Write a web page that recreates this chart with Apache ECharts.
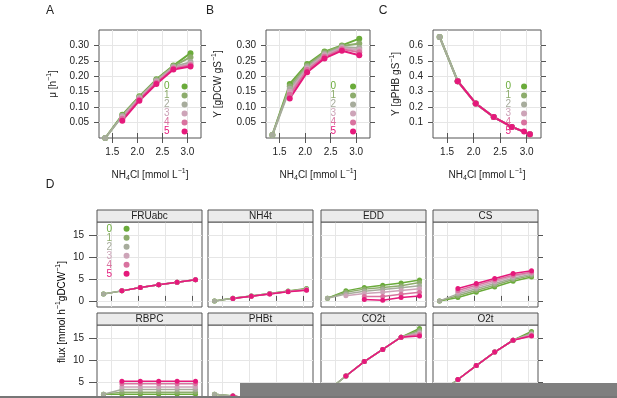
<!DOCTYPE html>
<html>
<head>
<meta charset="utf-8">
<script src="https://cdn.jsdelivr.net/npm/echarts@6/dist/echarts.min.js"></script>
<style>
html,body{margin:0;padding:0;background:#fff;}
#chart{width:617px;height:398px;}
</style>
</head>
<body>
<div id="chart"></div>
<script>
// NH4Cl concentrations (x) and the six scenarios
const nh4cl = [1.36, 1.70, 2.04, 2.38, 2.72, 3.06];
const groups = ['0', '1', '2', '3', '4', '5'];
const xTicks = [1.5, 2.0, 2.5, 3.0];
const muTicks = [0.05, 0.10, 0.15, 0.20, 0.25, 0.30];
const yieldTicks = [0.05, 0.10, 0.15, 0.20, 0.25, 0.30];
const phbTicks = [0.1, 0.2, 0.3, 0.4, 0.5, 0.6];
const fluxTicks = [0, 5, 10, 15];

// panel A, growth rate
const growthRate = [
  [0.0, 0.075, 0.135, 0.190, 0.235, 0.275],
  [0.0, 0.073, 0.133, 0.188, 0.233, 0.262],
  [0.0, 0.071, 0.131, 0.186, 0.231, 0.246],
  [null, 0.067, 0.128, 0.182, 0.228, 0.240],
  [null, 0.062, 0.125, 0.179, 0.225, 0.236],
  [null, 0.056, 0.121, 0.175, 0.222, 0.232]
];
// panel B, biomass yield
const biomassYield = [
  [0.01, 0.175, 0.240, 0.280, 0.300, 0.322],
  [0.01, 0.168, 0.235, 0.277, 0.298, 0.306],
  [0.01, 0.160, 0.230, 0.272, 0.295, 0.292],
  [null, 0.150, 0.225, 0.268, 0.292, 0.285],
  [null, 0.140, 0.220, 0.263, 0.288, 0.278],
  [null, 0.128, 0.213, 0.258, 0.283, 0.268]
];
// panel C, PHB yield
const phbYield = [
  [0.655, 0.368, 0.224, 0.136, 0.072, 0.025],
  [0.655, 0.368, 0.224, 0.136, 0.072, 0.025],
  [0.655, 0.368, 0.224, 0.136, 0.072, 0.025],
  [null, 0.368, 0.224, 0.136, 0.072, 0.025],
  [null, 0.368, 0.224, 0.136, 0.072, 0.025],
  [null, 0.368, 0.224, 0.136, 0.072, 0.025]
];

// panel D, fluxes per reaction
const facetNames = ['FRUabc', 'NH4t', 'EDD', 'CS', 'RBPC', 'PHBt', 'CO2t', 'O2t'];
const fluxFRUabc = [
  [1.6, 2.3, 3.05, 3.7, 4.3, 4.85],
  [1.6, 2.3, 3.05, 3.7, 4.3, 4.85],
  [1.6, 2.3, 3.05, 3.7, 4.3, 4.85],
  [null, 2.3, 3.05, 3.7, 4.3, 4.85],
  [null, 2.3, 3.05, 3.7, 4.3, 4.85],
  [null, 2.3, 3.05, 3.7, 4.3, 4.85]
];
const fluxNH4t = [
  [0, 0.6, 1.15, 1.7, 2.25, 2.85],
  [0, 0.6, 1.12, 1.68, 2.2, 2.75],
  [0, 0.58, 1.1, 1.65, 2.18, 2.65],
  [null, 0.56, 1.08, 1.62, 2.15, 2.6],
  [null, 0.55, 1.06, 1.6, 2.13, 2.52],
  [null, 0.54, 1.05, 1.58, 2.12, 2.45]
];
const fluxEDD = [
  [0.6, 2.3, 3.1, 3.6, 4.1, 4.8],
  [0.6, 2.0, 2.7, 3.1, 3.5, 4.2],
  [0.6, 1.6, 2.2, 2.6, 3.0, 3.5],
  [null, 1.2, 1.7, 2.0, 2.4, 2.8],
  [null, null, 1.0, 1.0, 1.5, 2.0],
  [null, null, 0.3, 0.15, 0.8, 1.15]
];
const fluxCS = [
  [0, 0.8, 2.0, 3.2, 4.5, 5.5],
  [0, 1.2, 2.4, 3.6, 4.9, 5.8],
  [0, 1.6, 2.8, 4.0, 5.2, 6.1],
  [null, 2.0, 3.2, 4.4, 5.6, 6.4],
  [null, 2.4, 3.6, 4.8, 5.9, 6.6],
  [null, 2.85, 4.0, 5.15, 6.3, 6.9]
];
const fluxRBPC = [
  [2.2, 2.2, 2.2, 2.2, 2.2, 2.2],
  [2.2, 2.7, 2.7, 2.7, 2.7, 2.7],
  [2.2, 3.3, 3.3, 3.3, 3.3, 3.3],
  [null, 3.9, 3.9, 3.9, 3.9, 3.9],
  [null, 4.6, 4.6, 4.6, 4.6, 4.6],
  [null, 5.2, 5.2, 5.2, 5.2, 5.2]
];
const fluxPHBt = [
  [2.2, 1.8, 1.2, 0.8, 0.5, 0.3],
  [2.2, 1.8, 1.2, 0.8, 0.5, 0.3],
  [2.2, 1.8, 1.2, 0.8, 0.5, 0.3],
  [null, 1.8, 1.2, 0.8, 0.5, 0.3],
  [null, 1.8, 1.2, 0.8, 0.5, 0.3],
  [null, 1.8, 1.2, 0.8, 0.5, 0.3]
];
const fluxCO2t = [
  [3.0, 6.4, 9.7, 12.5, 15.3, 17.3],
  [3.0, 6.4, 9.7, 12.5, 15.3, 16.9],
  [3.0, 6.4, 9.7, 12.5, 15.3, 16.5],
  [null, 6.4, 9.7, 12.5, 15.3, 16.2],
  [null, 6.4, 9.7, 12.5, 15.3, 15.9],
  [null, 6.4, 9.7, 12.5, 15.3, 15.6]
];
const fluxO2t = [
  [2.5, 5.6, 8.8, 11.9, 14.6, 16.6],
  [2.5, 5.6, 8.8, 11.9, 14.6, 16.3],
  [2.5, 5.6, 8.8, 11.9, 14.6, 16.1],
  [null, 5.6, 8.8, 11.9, 14.6, 15.9],
  [null, 5.6, 8.8, 11.9, 14.6, 15.7],
  [null, 5.6, 8.8, 11.9, 14.6, 15.6]
];
const facetFlux = [fluxFRUabc, fluxNH4t, fluxEDD, fluxCS, fluxRBPC, fluxPHBt, fluxCO2t, fluxO2t];

const colors = ['#6aab3a', '#8dac6c', '#a7ac9c', '#cda4b8', '#d9729f', '#e5197b'];
const FONT = '"Liberation Sans", Arial, sans-serif';
const TXT = '#222';
const BOX = '#555';
const GRIDLINE = '#e6e6e6';

const rich = {
  n: {fontSize: 10, fontFamily: FONT, color: TXT, lineHeight: 14},
  b: {fontSize: 7, fontFamily: FONT, color: TXT, lineHeight: 9, verticalAlign: 'bottom'},
  p: {fontSize: 7, fontFamily: FONT, color: TXT, lineHeight: 8, verticalAlign: 'top'}
};
const xTitle = '{n|NH}{b|4}{n|Cl [mmol L}{p|\u22121}{n|]}';

const chart = echarts.init(document.getElementById('chart'));
const grid = [], xAxis = [], yAxis = [], series = [], legend = [], graphic = [];

function addPanel(p){
  const gi = grid.length;
  grid.push({left: p.left, top: p.top, width: p.width, height: p.height,
    outerBoundsMode: 'none', containLabel: false,
    show: true, borderColor: BOX, borderWidth: 1, backgroundColor: 'transparent'});
  const xi = xAxis.length;
  xAxis.push({
    type: 'value', gridIndex: gi, min: p.xMin, max: p.xMax, position: 'bottom',
    axisLine: {show: false},
    axisTick: {show: !!p.xLabels, length: 5, customValues: xTicks, lineStyle: {color: BOX}},
    axisLabel: {show: !!p.xLabels, customValues: xTicks, color: TXT, fontSize: 10, fontFamily: FONT, margin: 9,
      formatter: v => v.toFixed(1)},
    splitLine: {show: true, lineStyle: {color: GRIDLINE}},
    name: p.xLabels ? xTitle : '', nameLocation: 'middle', nameGap: 30,
    nameTextStyle: {rich: rich}
  });
  xAxis.push({
    type: 'value', gridIndex: gi, min: p.xMin, max: p.xMax, position: 'top', offset: p.topOffset || 0,
    axisLine: {show: false},
    axisTick: {show: !!p.topTicks, length: 5, customValues: xTicks, lineStyle: {color: BOX}},
    axisLabel: {show: false}, splitLine: {show: false}
  });
  const yi = yAxis.length;
  yAxis.push({
    type: 'value', gridIndex: gi, min: p.yMin, max: p.yMax, position: 'left',
    axisLine: {show: false},
    axisTick: {show: !!p.leftTicks, length: p.leftTickLen || 5, customValues: p.yTicks, lineStyle: {color: BOX}},
    axisLabel: {show: !!p.leftTicks, customValues: p.yTicks, color: TXT, fontSize: 10, fontFamily: FONT,
      margin: p.labelMargin || 10, formatter: p.yFmt},
    splitLine: {show: true, lineStyle: {color: GRIDLINE}},
    name: p.yName || '', nameLocation: 'middle', nameGap: p.yNameGap || 30,
    nameTextStyle: {rich: rich}
  });
  yAxis.push({
    type: 'value', gridIndex: gi, min: p.yMin, max: p.yMax, position: 'right',
    axisLine: {show: false},
    axisTick: {show: !!p.rightTicks, length: 5, customValues: p.yTicks, lineStyle: {color: BOX}},
    axisLabel: {show: false}, splitLine: {show: false}
  });
  p.values.forEach((vals, k) => {
    series.push({
      type: 'line', name: groups[k], xAxisIndex: xi, yAxisIndex: yi,
      data: nh4cl.map((x, i) => [x, vals[i]]),
      symbol: 'circle', symbolSize: p.symbolSize, showSymbol: true, clip: false,
      color: colors[k],
      lineStyle: {width: p.lineWidth, color: colors[k]},
      itemStyle: {color: colors[k]},
      emphasis: {disabled: true}
    });
  });
}

function addLegend(left, top, itemWidth){
  legend.push({
    orient: 'vertical', left: left, top: top, align: 'right', icon: 'circle',
    itemWidth: itemWidth, itemHeight: 6, itemGap: -1, padding: 0, selectedMode: false,
    textStyle: {fontSize: 10, fontFamily: FONT, lineHeight: 9},
    data: groups.map((g, i) => ({name: g, textStyle: {color: colors[i]}}))
  });
}

const fmt2 = v => v.toFixed(2);
const fmt1 = v => v.toFixed(1);

// top row
addPanel({left: 99, top: 30, width: 102, height: 108, xMin: 1.235, xMax: 3.27, yMin: 0, yMax: 0.35,
  yTicks: muTicks, yFmt: fmt2, xLabels: true, topTicks: true, leftTicks: true, rightTicks: true,
  values: growthRate, symbolSize: 6, lineWidth: 2,
  yName: '{n|\u03bc [h}{p|\u22121}{n|]}', yNameGap: 39});
addPanel({left: 266, top: 30, width: 104, height: 108, xMin: 1.235, xMax: 3.27, yMin: 0, yMax: 0.35,
  yTicks: yieldTicks, yFmt: fmt2, xLabels: true, topTicks: true, leftTicks: true, rightTicks: true,
  values: biomassYield, symbolSize: 6, lineWidth: 2,
  yName: '{n|Y [gDCW gS}{p|\u22121}{n|]}', yNameGap: 41});
addPanel({left: 433, top: 30, width: 108, height: 108, xMin: 1.235, xMax: 3.27, yMin: 0, yMax: 0.70,
  yTicks: phbTicks, yFmt: fmt1, xLabels: true, topTicks: true, leftTicks: true, rightTicks: true,
  values: phbYield, symbolSize: 6, lineWidth: 2,
  yName: '{n|Y [gPHB gS}{p|\u22121}{n|]}', yNameGap: 30});

addLegend(164, 81.5, 20);
addLegend(330.5, 81.5, 24);
addLegend(505.5, 81.5, 16);

// facets of panel D
const colLeft = [97, 208, 321, 433];
const rowTop = [222, 325];
facetNames.forEach((name, f) => {
  const row = Math.floor(f / 4), col = f % 4;
  const left = colLeft[col], top = rowTop[row];
  addPanel({left: left, top: top, width: 105, height: 85, xMin: 1.24, xMax: 3.18, yMin: -1.4, yMax: 18.1,
    yTicks: fluxTicks, yFmt: v => String(v), xLabels: false,
    topTicks: row === 0, topOffset: 12, leftTicks: col === 0, leftTickLen: 8, labelMargin: 13,
    rightTicks: col === 3, values: facetFlux[f], symbolSize: 5, lineWidth: 1.5});
  graphic.push({type: 'rect', shape: {x: left, y: top - 12, width: 105, height: 12},
    style: {fill: '#ebebeb', stroke: BOX, lineWidth: 1}, z: 10});
  graphic.push({type: 'text', x: left + 52.5, y: top - 6, z: 11,
    style: {text: name, font: '10px ' + FONT, fill: TXT, align: 'center', verticalAlign: 'middle',
      textAlign: 'center', textVerticalAlign: 'middle'}});
});
addLegend(106.5, 223.8, 19);

// panel letters and shared flux title
[['A', 50, 11], ['B', 210, 11], ['C', 383, 11], ['D', 50, 185]].forEach(t => {
  graphic.push({type: 'text', x: t[1], y: t[2], z: 11,
    style: {text: t[0], font: '12px ' + FONT, fill: TXT, align: 'center', verticalAlign: 'middle',
      textAlign: 'center', textVerticalAlign: 'middle'}});
});
graphic.push({type: 'text', x: 62, y: 312, rotation: Math.PI / 2, z: 11,
  style: {text: '{n|flux [mmol h}{p|\u22121}{n|gDCW}{p|\u22121}{n|]}', rich: rich,
    align: 'center', verticalAlign: 'middle', textAlign: 'center', textVerticalAlign: 'middle'}});

// grey band over the bottom of the picture
graphic.push({type: 'rect', shape: {x: 240, y: 383, width: 377, height: 15}, style: {fill: '#7f7f7f'}, z: 100});
graphic.push({type: 'rect', shape: {x: 0, y: 396, width: 617, height: 2}, style: {fill: '#777777'}, z: 100});

chart.setOption({
  backgroundColor: '#fff',
  animation: false,
  textStyle: {fontFamily: FONT},
  grid: grid, xAxis: xAxis, yAxis: yAxis, legend: legend, series: series, graphic: graphic
});
</script>
</body>
</html>
